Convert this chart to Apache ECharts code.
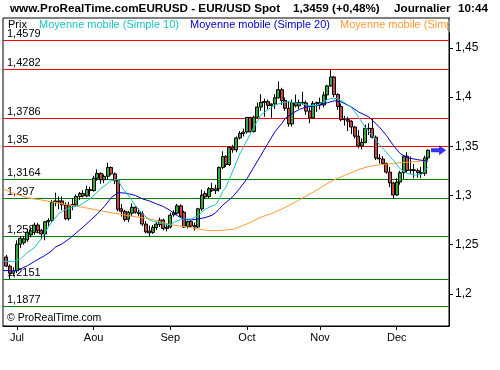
<!DOCTYPE html>
<html><head><meta charset="utf-8">
<script src="https://cdn.jsdelivr.net/npm/echarts@6/dist/echarts.min.js"></script>
<style>html,body{margin:0;padding:0;background:#fff}#c{width:500px;height:370px}</style>
</head><body><div id="c"></div>
<script>
const dates = ['06-28','06-29','06-30','07-01','07-02','07-05','07-06','07-07','07-08','07-09','07-12','07-13','07-14','07-15','07-16','07-19','07-20','07-21','07-22','07-23','07-26','07-27','07-28','07-29','07-30','08-02','08-03','08-04','08-05','08-06','08-09','08-10','08-11','08-12','08-13','08-16','08-17','08-18','08-19','08-20','08-23','08-24','08-25','08-26','08-27','08-30','08-31','09-01','09-02','09-03','09-06','09-07','09-08','09-09','09-10','09-13','09-14','09-15','09-16','09-17','09-20','09-21','09-22','09-23','09-24','09-27','09-28','09-29','09-30','10-01','10-04','10-05','10-06','10-07','10-08','10-11','10-12','10-13','10-14','10-15','10-18','10-19','10-20','10-21','10-22','10-25','10-26','10-27','10-28','10-29','11-01','11-02','11-03','11-04','11-05','11-08','11-09','11-10','11-11','11-12','11-15','11-16','11-17','11-18','11-19','11-22','11-23','11-24','11-25','11-26','11-29','11-30','12-01','12-02','12-03','12-06','12-07','12-08','12-09','12-10','12-13','12-14'];
const opens  = [1.2375,1.2283,1.2210,1.2235,1.2505,1.2520,1.2550,1.2600,1.2625,1.2700,1.2645,1.2610,1.2733,1.2745,1.2930,1.2935,1.2945,1.2905,1.2765,1.2900,1.2905,1.2990,1.3020,1.2995,1.3060,1.3050,1.3175,1.3225,1.3160,1.3195,1.3285,1.3220,1.3150,1.2865,1.2840,1.2760,1.2820,1.2880,1.2830,1.2815,1.2710,1.2640,1.2625,1.2675,1.2705,1.2750,1.2665,1.2680,1.2805,1.2820,1.2895,1.2830,1.2685,1.2735,1.2695,1.2680,1.2865,1.3020,1.2990,1.3070,1.3050,1.3068,1.3285,1.3395,1.3316,1.3489,1.3465,1.3585,1.3630,1.3645,1.3793,1.3650,1.3795,1.3899,1.3946,1.3955,1.3916,1.3930,1.3993,1.4076,1.3966,1.3886,1.3728,1.3944,1.3911,1.3945,1.3941,1.3858,1.3788,1.3937,1.3944,1.3920,1.4022,1.4114,1.4205,1.4026,1.3904,1.3771,1.3773,1.3755,1.3696,1.3603,1.3504,1.3539,1.3683,1.3680,1.3593,1.3381,1.3371,1.3327,1.3238,1.3128,1.3005,1.3137,1.3232,1.3400,1.3255,1.3262,1.3253,1.3235,1.3225,1.3382];
const highs  = [1.2395,1.2300,1.2270,1.2545,1.2590,1.2585,1.2665,1.2675,1.2725,1.2720,1.2660,1.2740,1.2770,1.2955,1.3030,1.2990,1.2990,1.2930,1.2935,1.2975,1.3010,1.3035,1.3055,1.3100,1.3090,1.3200,1.3265,1.3235,1.3215,1.3333,1.3295,1.3235,1.3155,1.2915,1.2855,1.2845,1.2920,1.2890,1.2870,1.2840,1.2740,1.2695,1.2700,1.2735,1.2775,1.2765,1.2720,1.2825,1.2850,1.2915,1.2910,1.2845,1.2745,1.2750,1.2725,1.2875,1.3060,1.3045,1.3085,1.3130,1.3110,1.3295,1.3450,1.3410,1.3500,1.3515,1.3600,1.3655,1.3680,1.3800,1.3800,1.3810,1.3945,1.4030,1.3985,1.3975,1.3935,1.4030,1.4160,1.4095,1.3995,1.3960,1.3975,1.4025,1.3975,1.4055,1.3965,1.3895,1.3960,1.3955,1.3995,1.4055,1.4125,1.4282,1.4215,1.4040,1.3935,1.3810,1.3800,1.3765,1.3705,1.3665,1.3580,1.3720,1.3735,1.3780,1.3610,1.3420,1.3400,1.3335,1.3290,1.3140,1.3175,1.3250,1.3400,1.3440,1.3395,1.3320,1.3275,1.3290,1.3405,1.3470];
const lows   = [1.2275,1.2153,1.2180,1.2210,1.2465,1.2500,1.2530,1.2575,1.2600,1.2615,1.2555,1.2545,1.2690,1.2735,1.2890,1.2860,1.2850,1.2750,1.2745,1.2850,1.2890,1.2955,1.2980,1.2985,1.2990,1.3040,1.3150,1.3120,1.3125,1.3160,1.3205,1.3115,1.2840,1.2785,1.2735,1.2730,1.2790,1.2815,1.2790,1.2690,1.2615,1.2588,1.2610,1.2650,1.2680,1.2645,1.2635,1.2665,1.2785,1.2805,1.2780,1.2670,1.2665,1.2675,1.2645,1.2670,1.2845,1.2965,1.2975,1.3035,1.3015,1.3040,1.3270,1.3290,1.3300,1.3435,1.3440,1.3570,1.3600,1.3630,1.3640,1.3640,1.3780,1.3860,1.3800,1.3875,1.3790,1.3880,1.3985,1.3920,1.3860,1.3700,1.3700,1.3895,1.3880,1.3925,1.3820,1.3735,1.3780,1.3850,1.3875,1.3895,1.3970,1.4105,1.4000,1.3870,1.3755,1.3710,1.3655,1.3625,1.3580,1.3480,1.3470,1.3530,1.3615,1.3580,1.3360,1.3325,1.3320,1.3220,1.3085,1.2969,1.2995,1.3110,1.3170,1.3230,1.3220,1.3175,1.3180,1.3175,1.3200,1.3350];
const closes = [1.2283,1.2210,1.2235,1.2505,1.2565,1.2560,1.2625,1.2640,1.2700,1.2645,1.2610,1.2733,1.2745,1.2930,1.2945,1.2945,1.2905,1.2765,1.2900,1.2910,1.2990,1.3020,1.2995,1.3060,1.3050,1.3175,1.3225,1.3160,1.3195,1.3285,1.3220,1.3150,1.2860,1.2840,1.2755,1.2830,1.2880,1.2830,1.2815,1.2710,1.2630,1.2620,1.2675,1.2710,1.2750,1.2665,1.2680,1.2800,1.2825,1.2895,1.2790,1.2680,1.2735,1.2690,1.2680,1.2865,1.3005,1.2985,1.3070,1.3050,1.3068,1.3285,1.3395,1.3316,1.3489,1.3465,1.3585,1.3630,1.3645,1.3793,1.3648,1.3795,1.3899,1.3946,1.3955,1.3916,1.3930,1.3993,1.4076,1.3966,1.3886,1.3728,1.3944,1.3911,1.3945,1.3941,1.3858,1.3788,1.3937,1.3944,1.3920,1.4022,1.4114,1.4205,1.4026,1.3904,1.3771,1.3773,1.3755,1.3696,1.3603,1.3504,1.3539,1.3683,1.3680,1.3593,1.3381,1.3371,1.3327,1.3238,1.3128,1.3005,1.3137,1.3232,1.3400,1.3255,1.3262,1.3253,1.3235,1.3225,1.3382,1.3459];

const padBefore = ['06-25'];
const padAfter = ['12-15','12-16','12-17','12-20','12-21','12-22'];
const monthStarts = ['07-01','08-02','09-01','10-01','11-01','12-01'];
const monthLabels = ['Jul','Aou','Sep','Oct','Nov','Dec'];
const priceTicks = [1.2,1.25,1.3,1.35,1.4,1.45];
const priceTickLabels = ['1,2','1,25','1,3','1,35','1,4','1,45'];
const resistanceLevels = [1.4579,1.4282,1.3786,1.35];
const resistanceLabels = ['1,4579','1,4282','1,3786','1,35'];
const supportLevels = [1.3164,1.297,1.2586,1.2151,1.1877];
const supportLabels = ['1,3164','1,297','1,2586','1,2151','1,1877'];

const sma10 = [['06-25',1.2330],['06-30',1.2330],['07-02',1.2357],['07-06',1.2420],['07-08',1.2470],['07-12',1.2560],['07-14',1.2680],['07-15',1.2730],['07-19',1.2816],['07-21',1.2857],['07-23',1.2880],['07-27',1.2900],['07-30',1.2966],['08-04',1.3068],['08-09',1.3150],['08-11',1.3165],['08-12',1.3090],['08-16',1.3000],['08-18',1.2900],['08-20',1.2813],['08-24',1.2752],['08-26',1.2728],['08-30',1.2711],['09-01',1.2704],['09-03',1.2745],['09-07',1.2762],['09-09',1.2762],['09-13',1.2796],['09-15',1.2860],['09-17',1.2895],['09-20',1.2905],['09-21',1.2960],['09-22',1.3040],['09-23',1.3085],['09-27',1.3255],['09-29',1.3426],['10-01',1.3561],['10-05',1.3697],['10-07',1.3816],['10-11',1.3874],['10-13',1.3918],['10-15',1.3942],['10-19',1.3952],['10-21',1.3942],['10-25',1.3930],['10-27',1.3915],['10-29',1.3915],['11-02',1.3955],['11-04',1.3987],['11-08',1.3985],['11-10',1.3945],['11-12',1.3895],['11-16',1.3800],['11-18',1.3690],['11-22',1.3610],['11-24',1.3520],['11-26',1.3440],['11-30',1.3360],['12-02',1.3270],['12-06',1.3225],['12-08',1.3208],['12-10',1.3212],['12-14',1.3289]];
const sma20 = [['06-25',1.2238],['07-01',1.2235],['07-02',1.2252],['07-06',1.2286],['07-08',1.2330],['07-13',1.2390],['07-15',1.2439],['07-16',1.2475],['07-20',1.2510],['07-22',1.2560],['07-26',1.2620],['07-28',1.2680],['07-30',1.2745],['08-03',1.2810],['08-05',1.2885],['08-09',1.2975],['08-11',1.3030],['08-13',1.3025],['08-17',1.3010],['08-18',1.3000],['08-20',1.2966],['08-24',1.2945],['08-26',1.2915],['08-30',1.2889],['09-01',1.2847],['09-03',1.2796],['09-07',1.2757],['09-09',1.2752],['09-13',1.2762],['09-15',1.2775],['09-17',1.2800],['09-20',1.2825],['09-21',1.2860],['09-22',1.2900],['09-27',1.2990],['09-29',1.3075],['10-01',1.3170],['10-05',1.3289],['10-07',1.3408],['10-11',1.3528],['10-13',1.3646],['10-15',1.3732],['10-18',1.3783],['10-20',1.3834],['10-22',1.3874],['10-26',1.3900],['10-28',1.3908],['11-01',1.3918],['11-03',1.3942],['11-05',1.3962],['11-09',1.3952],['11-12',1.3900],['11-16',1.3850],['11-19',1.3799],['11-24',1.3697],['11-26',1.3612],['11-30',1.3510],['12-02',1.3426],['12-06',1.3385],['12-09',1.3364],['12-14',1.3350]];
const sma100 = [['06-25',1.3068],['06-30',1.3023],['07-06',1.2977],['07-13',1.2949],['07-19',1.2921],['07-28',1.2880],['08-09',1.2825],['08-17',1.2790],['08-25',1.2757],['09-01',1.2704],['09-08',1.2680],['09-13',1.2660],['09-16',1.2643],['09-21',1.2645],['09-27',1.2655],['10-01',1.2711],['10-07',1.2779],['10-13',1.2830],['10-18',1.2880],['10-22',1.2955],['10-28',1.3034],['11-03',1.3119],['11-05',1.3160],['11-10',1.3204],['11-16',1.3262],['11-19',1.3296],['11-25',1.3316],['12-01',1.3330],['12-07',1.3340],['12-14',1.3357]];

const headerLeft = 'www.ProRealTime.comEURUSD - EUR/USD Spot';
const headerPrice = '1,3459 (+0,48%)';
const headerPeriod = 'Journalier';
const headerTime = '10:44';
const legendNames = ['Prix','Moyenne mobile (Simple 10)','Moyenne mobile (Simple 20)','Moyenne mobile (Simple 100)'];
const legendColors = ['#000000','#19c3c3','#0000cc','#ff9a33'];
const copyright = '\u00a9 ProRealTime.com';

const FONT = '"Liberation Sans", Arial, sans-serif';
const categories = padBefore.concat(dates, padAfter);
const candleData = padBefore.map(() => '-').concat(
  dates.map((d, i) => [opens[i], closes[i], lows[i], highs[i]]),
  padAfter.map(() => '-'));
const lastClose = closes[closes.length - 1];

const levelValues = resistanceLevels.concat(supportLevels);
const levelTexts = resistanceLabels.concat(supportLabels);
const levelColors = resistanceLevels.map(() => '#ff0000').concat(supportLevels.map(() => '#008000'));
const levelData = levelValues.map(v => [categories[0], v]);

const chart = echarts.init(document.getElementById('c'), null, {renderer: 'canvas'});
const isMonthStart = (i, v) => monthStarts.indexOf(v) >= 0;
const headerFont = 'bold 11.7px ' + FONT;

function renderLevel(params, api) {
  const cs = params.coordSys;
  const y = Math.round(api.coord([0, api.value(1)])[1]) + 0.5;
  const i = params.dataIndex;
  return {
    type: 'group',
    children: [
      {type: 'line', shape: {x1: cs.x, y1: y, x2: cs.x + cs.width, y2: y}, style: {stroke: levelColors[i], lineWidth: 1}},
      {type: 'text', x: cs.x + 4, y: y - 1.5, style: {text: levelTexts[i], fill: '#000', font: '11px ' + FONT, verticalAlign: 'bottom'}}
    ]
  };
}

chart.setOption({
  animation: false,
  backgroundColor: '#ffffff',
  grid: {left: 3, right: 51, top: 18, bottom: 44, show: true, borderColor: '#000', borderWidth: 1, backgroundColor: '#fff'},
  xAxis: {
    type: 'category', data: categories, boundaryGap: false,
    axisLine: {show: true, lineStyle: {color: '#000', width: 1}},
    axisTick: {show: true, interval: isMonthStart, length: 4, lineStyle: {color: '#000'}},
    axisLabel: {interval: isMonthStart, margin: 6, color: '#000', fontSize: 11, fontFamily: FONT,
      formatter: v => monthLabels[monthStarts.indexOf(v)]},
    splitLine: {show: false}
  },
  yAxis: {
    type: 'value', position: 'right', min: 1.1674, max: 1.4804, scale: true,
    axisLine: {show: true, lineStyle: {color: '#000', width: 1}},
    axisTick: {show: true, length: 4, customValues: priceTicks, lineStyle: {color: '#000'}},
    axisLabel: {customValues: priceTicks, margin: 6, color: '#000', fontSize: 12, fontFamily: FONT,
      formatter: v => priceTickLabels[priceTicks.findIndex(t => Math.abs(t - v) < 1e-9)]},
    splitLine: {show: false}
  },
  series: [
    {
      type: 'custom', z: 1, silent: true, clip: false, data: levelData,
      encode: {x: 0, y: 1}, renderItem: renderLevel
    },
    {
      type: 'candlestick', name: 'Prix', data: candleData, z: 3, barWidth: 3.5,
      itemStyle: {color: '#33aa33', color0: '#cc4444', borderColor: '#000', borderColor0: '#000', borderWidth: 1}
    },
    {type: 'line', name: legendNames[3], data: sma100, z: 4, symbol: 'none', connectNulls: true, lineStyle: {color: legendColors[3], width: 1}},
    {type: 'line', name: legendNames[2], data: sma20, z: 4, symbol: 'none', connectNulls: true, lineStyle: {color: legendColors[2], width: 1}},
    {type: 'line', name: legendNames[1], data: sma10, z: 4, symbol: 'none', connectNulls: true, lineStyle: {color: legendColors[1], width: 1}},
    {
      type: 'scatter', z: 5, data: [[padAfter[2], lastClose]],
      symbol: 'path://M0,3L8,3L8,0L15,5L8,10L8,7L0,7Z', symbolSize: [15, 10],
      itemStyle: {color: '#0000ff'}
    }
  ],
  graphic: [
    {type: 'text', x: 10, y: 9, style: {text: headerLeft, font: headerFont, fill: '#000', verticalAlign: 'middle'}},
    {type: 'text', x: 293, y: 9, style: {text: headerPrice, font: headerFont, fill: '#000', verticalAlign: 'middle'}},
    {type: 'text', x: 394, y: 9, style: {text: headerPeriod, font: headerFont, fill: '#000', verticalAlign: 'middle'}},
    {type: 'text', x: 458, y: 9, style: {text: headerTime, font: headerFont, fill: '#000', verticalAlign: 'middle'}},
    {type: 'text', x: 8, y: 25, z: 10, style: {text: legendNames[0], font: '11px ' + FONT, fill: legendColors[0], verticalAlign: 'middle'}},
    {type: 'text', x: 39, y: 25, z: 10, style: {text: legendNames[1], font: '11px ' + FONT, fill: legendColors[1], verticalAlign: 'middle'}},
    {type: 'text', x: 190, y: 25, z: 10, style: {text: legendNames[2], font: '11px ' + FONT, fill: legendColors[2], verticalAlign: 'middle'}},
    {type: 'text', x: 340, y: 25, z: 10, style: {text: legendNames[3], font: '11px ' + FONT, fill: legendColors[3], verticalAlign: 'middle'}},
    {type: 'rect', z: 11, shape: {x: 449.5, y: 18.5, width: 50, height: 14}, style: {fill: '#fff'}},
    {type: 'text', x: 7, y: 318, z: 10, style: {text: copyright, font: '10.5px ' + FONT, fill: '#000', verticalAlign: 'middle'}}
  ]
});
</script></body></html>
